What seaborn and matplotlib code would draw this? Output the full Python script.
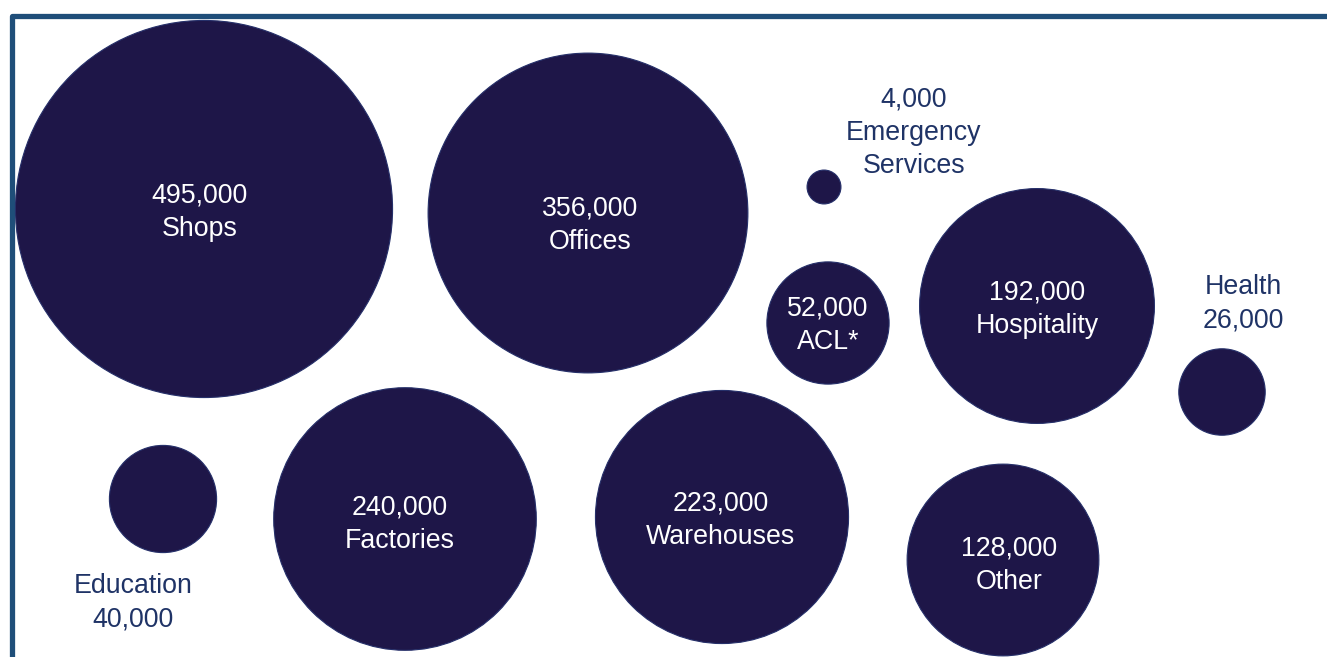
import matplotlib
matplotlib.use("Agg")
import matplotlib.pyplot as plt
import numpy as np
import pandas as pd
import seaborn as sns

# Building counts by sector
sectors = ["Shops", "Offices", "Emergency\nServices", "ACL*", "Hospitality",
           "Health", "Education", "Factories", "Warehouses", "Other"]
counts = [495000, 356000, 4000, 52000, 192000, 26000, 40000, 240000, 223000, 128000]

# Layout of the bubbles (pixel-like canvas units, y downwards)
bubble_x = [204, 588, 824, 828, 1037, 1222, 163, 405, 722, 1003]
bubble_y = [209, 213, 187, 323, 306, 392, 499, 519, 517, 560]

# Label placement: inside bubble (white) or outside (navy text at given point)
label_inside = [True, True, False, True, True, False, False, True, True, True]
label_x = [200, 590, 914, 828, 1037, 1243, 133, 400, 721, 1009]
label_y = [212, 225, 133, 325, 309, 304, 603, 524, 520, 565]
value_first = [True, True, True, True, True, False, False, True, True, True]

W, H, DPI = 1327, 657, 100
FILL = "#1e1648"
EDGE = "#26306a"
TEXT_OUT = "#1f3366"
FRAME = "#1f4e79"

sns.set_theme(style="white")
plt.rcParams["font.family"] = ["Liberation Sans", "DejaVu Sans"]

fig = plt.figure(figsize=(W / DPI, H / DPI), dpi=DPI)
ax = fig.add_axes([0, 0, 1, 1])
ax.set_xlim(0, W)
ax.set_ylim(H, 0)
ax.set_axis_off()

df = pd.DataFrame({"sector": sectors, "count": counts, "x": bubble_x, "y": bubble_y})

# Bubble area proportional to count
max_diam_pt = 2 * 0.268 * np.sqrt(max(counts)) * 72 / DPI
sns.scatterplot(data=df, x="x", y="y", size="count",
                sizes=(0, max_diam_pt ** 2), size_norm=(0, max(counts)),
                color=FILL, edgecolor=EDGE, linewidth=0.8, alpha=1,
                legend=False, ax=ax, zorder=2)

# Frame along top and left
ax.plot([11.5, 11.5, W + 20], [H + 20, 15.5, 15.5], color=FRAME, lw=3.8,
         solid_joinstyle="round", solid_capstyle="butt", zorder=1)

for name, val, inside, lx, ly, vf in zip(sectors, counts, label_inside,
                                         label_x, label_y, value_first):
    num = f"{val:,}"
    txt = f"{num}\n{name}" if vf else f"{name}\n{num}"
    ax.text(lx, ly, txt, ha="center", va="center", fontsize=19.3,
            linespacing=1.36, color="white" if inside else TEXT_OUT, zorder=3)

fig.savefig("out.png", dpi=DPI)
